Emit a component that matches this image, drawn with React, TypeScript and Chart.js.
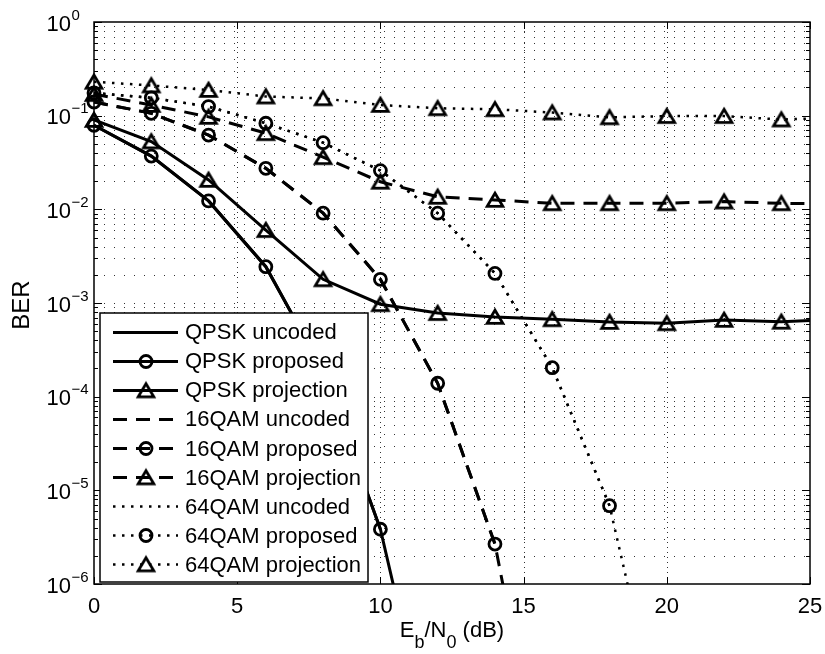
import React, { useEffect, useRef } from 'react';
import { Chart, registerables } from 'chart.js';

Chart.register(...registerables);

// ---- data ----
const snr = [0, 2, 4, 6, 8, 10, 12, 14, 16, 18, 20, 22, 24, 25];
const xTicks = [0, 5, 10, 15, 20, 25];
const yExponents = [0, -1, -2, -3, -4, -5, -6];

const qpskUncoded = [0.079, 0.037, 0.0123, 0.00244, 1.9e-4, 3.84e-6, 9e-9];
const qpskProposed = [0.079, 0.037, 0.0123, 0.00244, 1.9e-4, 3.84e-6];
const qpskProjection = [0.09, 0.053, 0.0206, 0.006, 0.00179, 0.00097, 7.8e-4, 7.1e-4, 6.7e-4, 6.27e-4, 6.07e-4, 6.6e-4, 6.3e-4, 6.5e-4];
const qam16Uncoded = [0.14, 0.106, 0.062, 0.0274, 0.0091, 0.00179, 1.39e-4, 2.67e-6, 2e-9];
const qam16Proposed = [0.14, 0.106, 0.062, 0.0274, 0.0091, 0.00179, 1.39e-4, 2.67e-6];
const qam16Projection = [0.17, 0.13, 0.097, 0.065, 0.036, 0.0197, 0.0136, 0.0126, 0.0116, 0.0116, 0.0116, 0.0121, 0.0116, 0.0115];
const qam64Uncoded = [0.175, 0.155, 0.125, 0.083, 0.0515, 0.0259, 0.0091, 0.00207, 2.04e-4, 6.86e-6, 1.5e-8];
const qam64Proposed = [0.175, 0.155, 0.125, 0.083, 0.0515, 0.0259, 0.0091, 0.00207, 2.04e-4, 6.86e-6];
const qam64Projection = [0.23, 0.21, 0.188, 0.16, 0.153, 0.13, 0.12, 0.117, 0.108, 0.096, 0.099, 0.099, 0.091, 0.093];

const labels = [
  'QPSK uncoded', 'QPSK proposed', 'QPSK projection',
  '16QAM uncoded', '16QAM proposed', '16QAM projection',
  '64QAM uncoded', '64QAM proposed', '64QAM projection',
];

const FONT = '"Liberation Sans", Arial, Helvetica, sans-serif';
const SOLID: number[] = [];
const DASH = [14, 9];
const DOT = [2.5, 6.5];

const toPts = (vals: number[]) => vals.map((y, i) => ({ x: snr[i], y }));

function makeTriangle(): HTMLCanvasElement {
  const c = document.createElement('canvas');
  c.width = 28;
  c.height = 28;
  const g = c.getContext('2d')!;
  g.strokeStyle = '#000';
  g.lineWidth = 2.8;
  g.beginPath();
  g.moveTo(14, 14 - 6.8);
  g.lineTo(14 + 7.8, 14 + 6.3);
  g.lineTo(14 - 7.8, 14 + 6.3);
  g.closePath();
  g.stroke();
  return c;
}

export default function App() {
  const ref = useRef<HTMLCanvasElement | null>(null);

  useEffect(() => {
    const canvas = ref.current;
    if (!canvas) return;
    const tri = makeTriangle();

    const spec = [
      { data: qpskUncoded, dash: SOLID, marker: 'none' },
      { data: qpskProposed, dash: SOLID, marker: 'circle' },
      { data: qpskProjection, dash: SOLID, marker: 'triangle' },
      { data: qam16Uncoded, dash: DASH, marker: 'none' },
      { data: qam16Proposed, dash: DASH, marker: 'circle' },
      { data: qam16Projection, dash: DASH, marker: 'triangle' },
      { data: qam64Uncoded, dash: DOT, marker: 'none' },
      { data: qam64Proposed, dash: DOT, marker: 'circle' },
      { data: qam64Projection, dash: DOT, marker: 'triangle' },
    ];

    const datasets = spec.map((s, i) => ({
      label: labels[i],
      data: toPts(s.data),
      borderColor: '#000',
      backgroundColor: 'rgba(0,0,0,0)',
      borderWidth: s.dash === DOT ? 2.5 : 3,
      borderDash: s.dash,
      borderCapStyle: 'butt',
      tension: 0,
      pointStyle: s.marker === 'triangle' ? tri : 'circle',
      pointRadius: s.marker === 'none' ? 0 : (ctx: any) => (ctx.raw && ctx.raw.x > 24.5 ? 0 : (s.marker === 'circle' ? 6 : 9)),
      pointBorderWidth: 2.8,
      pointBorderColor: '#000',
      pointBackgroundColor: 'rgba(0,0,0,0)',
      clip: { left: 20, top: 20, right: 5, bottom: 0 },
      _marker: s.marker,
    }));

    const axesPlugin = {
      id: 'matlabAxes',
      beforeDatasetsDraw(chart: any) {
        const { ctx, chartArea: a, scales } = chart;
        const xs = scales.x;
        const ys = scales.y;
        ctx.save();
        ctx.lineWidth = 1;
        ctx.strokeStyle = '#333';
        ctx.setLineDash([1, 9]);
        for (let e = -6; e < 0; e++) {
          for (let m = 1; m <= 9; m++) {
            const v = m * Math.pow(10, e);
            const py = Math.round(ys.getPixelForValue(v)) + 0.5;
            if (py <= a.top + 1 || py >= a.bottom - 1) continue;
            ctx.beginPath();
            ctx.moveTo(a.left, py);
            ctx.lineTo(a.right, py);
            ctx.stroke();
          }
        }
        ctx.setLineDash([1, 4]);
        for (const t of xTicks) {
          const px = Math.round(xs.getPixelForValue(t)) + 0.5;
          if (px <= a.left + 1 || px >= a.right - 1) continue;
          ctx.beginPath();
          ctx.moveTo(px, a.top);
          ctx.lineTo(px, a.bottom);
          ctx.stroke();
        }
        ctx.restore();
      },
      afterDatasetsDraw(chart: any) {
        const { ctx, chartArea: a, scales } = chart;
        const xs = scales.x;
        const ys = scales.y;
        ctx.save();
        ctx.setLineDash([]);
        ctx.strokeStyle = '#000';
        ctx.lineWidth = 1.5;
        ctx.strokeRect(a.left, a.top, a.right - a.left, a.bottom - a.top);
        ctx.lineWidth = 1;
        for (let e = -6; e <= 0; e++) {
          for (let m = 1; m <= 9; m++) {
            const v = m * Math.pow(10, e);
            if (v > 1.0000001) break;
            const py = Math.round(ys.getPixelForValue(v)) + 0.5;
            const len = m === 1 ? 8 : 4;
            ctx.beginPath();
            ctx.moveTo(a.left, py);
            ctx.lineTo(a.left + len, py);
            ctx.moveTo(a.right, py);
            ctx.lineTo(a.right - len, py);
            ctx.stroke();
          }
        }
        for (const t of xTicks) {
          const px = Math.round(xs.getPixelForValue(t)) + 0.5;
          ctx.beginPath();
          ctx.moveTo(px, a.bottom);
          ctx.lineTo(px, a.bottom - 7);
          ctx.moveTo(px, a.top);
          ctx.lineTo(px, a.top + 7);
          ctx.stroke();
        }
        ctx.fillStyle = '#000';
        ctx.font = `22px ${FONT}`;
        ctx.textAlign = 'center';
        ctx.textBaseline = 'alphabetic';
        for (const t of xTicks) {
          ctx.fillText(String(t), xs.getPixelForValue(t), a.bottom + 28.5);
        }
        ctx.textAlign = 'left';
        for (const e of yExponents) {
          const py = ys.getPixelForValue(Math.pow(10, e));
          ctx.font = `22px ${FONT}`;
          ctx.fillText('10', 46.5, py + 8.5);
          const w = ctx.measureText('10').width;
          ctx.font = `15px ${FONT}`;
          ctx.fillText(e === 0 ? '0' : '\u2212' + String(-e), 46.5 + w + 0.5, py - 2.5);
        }
        const parts = [
          { t: 'E', s: 22, dy: 0 },
          { t: 'b', s: 18, dy: 11 },
          { t: '/N', s: 22, dy: 0 },
          { t: '0', s: 18, dy: 11 },
          { t: ' (dB)', s: 22, dy: 0 },
        ];
        let total = 0;
        for (const p of parts) {
          ctx.font = `${p.s}px ${FONT}`;
          total += ctx.measureText(p.t).width;
        }
        let cx = (a.left + a.right) / 2 - total / 2;
        for (const p of parts) {
          ctx.font = `${p.s}px ${FONT}`;
          ctx.fillText(p.t, cx, 636.7 + p.dy);
          cx += ctx.measureText(p.t).width;
        }
        ctx.save();
        ctx.translate(29, 305);
        ctx.rotate(-Math.PI / 2);
        ctx.font = `24px ${FONT}`;
        ctx.textAlign = 'center';
        ctx.fillText('BER', 0, 0);
        ctx.restore();
        ctx.restore();
      },
      afterDraw(chart: any) {
        const { ctx } = chart;
        ctx.save();
        const bx = 100, by = 313, bw = 268, bh = 269;
        ctx.fillStyle = '#fff';
        ctx.fillRect(bx, by, bw, bh);
        ctx.strokeStyle = '#000';
        ctx.lineWidth = 1.5;
        ctx.setLineDash([]);
        ctx.strokeRect(bx, by, bw, bh);
        chart.data.datasets.forEach((ds: any, i: number) => {
          const base = 339.3 + 29.05 * i;
          const ly = Math.round(base - 7.5) + 0.5;
          ctx.strokeStyle = '#000';
          ctx.lineWidth = ds.borderWidth;
          ctx.lineCap = 'butt';
          ctx.setLineDash(ds.borderDash);
          ctx.beginPath();
          ctx.moveTo(113, ly);
          ctx.lineTo(178, ly);
          ctx.stroke();
          ctx.setLineDash([]);
          if (ds._marker === 'circle') {
            ctx.lineWidth = 2.8;
            ctx.beginPath();
            ctx.arc(146, ly, 6, 0, Math.PI * 2);
            ctx.stroke();
          } else if (ds._marker === 'triangle') {
            ctx.drawImage(tri, 146 - tri.width / 2, ly - tri.height / 2);
          }
          ctx.fillStyle = '#000';
          ctx.font = `22px ${FONT}`;
          ctx.textAlign = 'left';
          ctx.textBaseline = 'alphabetic';
          ctx.fillText(ds.label, 185, base);
        });
        ctx.restore();
      },
    };

    const chart = new Chart(canvas, {
      type: 'line',
      data: { datasets: datasets as any },
      options: {
        responsive: false,
        maintainAspectRatio: false,
        animation: false,
        events: [],
        layout: { padding: { left: 94, top: 22, right: 15, bottom: 70 } },
        plugins: {
          legend: { display: false },
          tooltip: { enabled: false },
          title: { display: false },
        },
        scales: {
          x: { type: 'linear', min: 0, max: 25, display: false },
          y: { type: 'logarithmic', min: 1e-6, max: 1, display: false },
        },
      },
      plugins: [axesPlugin],
    });
    return () => chart.destroy();
  }, []);

  return (
    <div style={{ position: 'fixed', left: 0, top: 0, width: 825, height: 654, background: '#fff' }}>
      <canvas ref={ref} width={825} height={654} style={{ display: 'block', width: 825, height: 654 }} />
    </div>
  );
}
